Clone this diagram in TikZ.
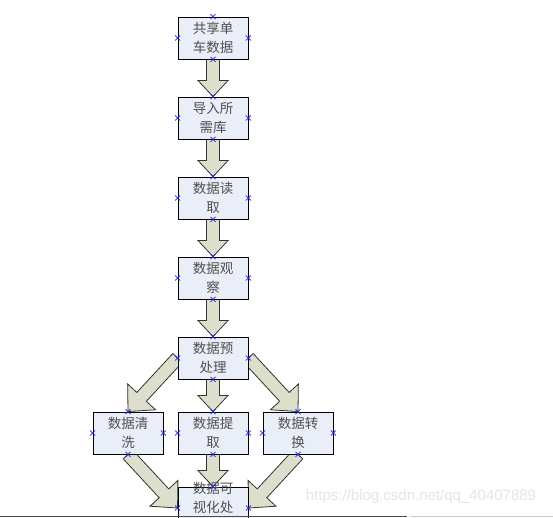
\documentclass[tikz,border=0pt]{standalone}
\usepackage{fontspec}
\setmainfont{Noto Sans CJK SC}
\newfontfamily\wmfont{Liberation Sans}
\usetikzlibrary{calc}
\pgfdeclarelayer{bg}
\pgfsetlayers{bg,main}
\definecolor{boxfill}{HTML}{E9EEF8}
\definecolor{arrfill}{HTML}{DCDFCB}
\definecolor{txt}{HTML}{505050}
\definecolor{mk}{HTML}{2020E8}
\tikzset{
  flowbox/.style={draw=black, line width=0.9pt, fill=boxfill, minimum width=70pt,
    minimum height=42pt, inner sep=0pt, align=center, text=txt,
    font=\fontsize{13.5}{19.5}\selectfont},
  blk/.style={draw=black!80, line width=0.8pt, fill=arrfill, line join=miter},
  cmark/.style={draw=mk, line width=0.7pt},
}
\newcommand\blockarr[5]{%
  \coordinate (hh) at ($(#2)!#5!(#1)$);
  \draw[blk] ($(#1)!#3!90:(#2)$) -- ($(hh)!#3!90:(#2)$) -- ($(hh)!#4!90:(#2)$)
    -- (#2) -- ($(hh)!#4!-90:(#2)$) -- ($(hh)!#3!-90:(#2)$)
    -- ($(#1)!#3!-90:(#2)$) -- cycle;}
\begin{document}
\begin{tikzpicture}[x=1pt,y=-1pt]
\useasboundingbox (0,0) rectangle (553,518);
\clip (0,0) rectangle (553,518);
\node[flowbox] (n1) at (213,38) {共享单\\车数据};
\node[flowbox] (n2) at (213,118) {导入所\\需库};
\node[flowbox] (n3) at (213,198) {数据读\\取};
\node[flowbox] (n4) at (213,278) {数据观\\察};
\node[flowbox] (n5) at (213,358) {数据预\\处理};
\node[flowbox] (nl) at (128,433) {数据清\\洗};
\node[flowbox] (nm) at (213,433) {数据提\\取};
\node[flowbox] (nr) at (298,433) {数据转\\换};
\node[flowbox] (nf) at (213,508) {};
\node[text=txt, align=center, inner sep=0pt, font=\fontsize{13.5}{18.5}\selectfont] (nft) at (213,498) {数据可\\视化处};
\begin{pgfonlayer}{bg}
\fill[white] (0,0) rectangle (553,518);
\blockarr{n1.south}{n2.north}{6.5pt}{15pt}{16pt}
\blockarr{n2.south}{n3.north}{6.5pt}{15pt}{16pt}
\blockarr{n3.south}{n4.north}{6.5pt}{15pt}{16pt}
\blockarr{n4.south}{n5.north}{6.5pt}{15pt}{16pt}
\blockarr{n5.south}{nm.north}{6.5pt}{15pt}{16pt}
\blockarr{nm.south}{nf.north}{6.5pt}{15pt}{16pt}
\blockarr{n5.west}{nl.north}{6.5pt}{19pt}{20pt}
\blockarr{n5.east}{nr.north}{6.5pt}{19pt}{20pt}
\blockarr{nl.south}{nf.west}{6.5pt}{19pt}{20pt}
\blockarr{nr.south}{nf.east}{6.5pt}{19pt}{20pt}
\end{pgfonlayer}
\foreach \n in {n1,n2,n3,n4,n5,nl,nm,nr,nf}
  \foreach \a in {north,south,east,west}
    \draw[cmark] (\n.\a) ++(-2.5,-2.5) -- ++(5,5) (\n.\a) ++(-2.5,2.5) -- ++(5,-5);
\node[text=black!10, inner sep=0pt, font=\wmfont\fontsize{15}{15}\selectfont] (wm) at (421,497) {https://blog.csdn.net/qq\_40407889};
\draw[black!70, line width=1pt] (0,516.5) -- (407,516.5);
\draw[black!20, line width=0.8pt] (410,516.5) -- (553,516.5);
\end{tikzpicture}
\end{document}
